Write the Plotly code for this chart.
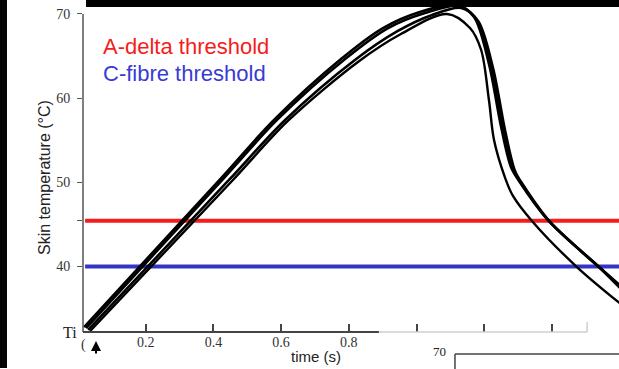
import plotly.graph_objects as go

# ---- data (time in s, skin temperature in °C) ----
trace_a_t = [0.018, 0.423, 0.579, 0.777, 0.901, 1.010, 1.120, 1.170, 1.214, 1.250, 1.279, 1.303, 1.386, 1.533, 1.607]
trace_a_T = [32.81, 50.51, 57.41, 64.65, 68.33, 70.24, 71.07, 69.64, 64.06, 56.57, 51.82, 50.16, 45.64, 40.18, 37.56]

trace_b_t = [0.024, 0.431, 0.588, 0.789, 0.916, 1.025, 1.126, 1.176, 1.220, 1.256, 1.285, 1.309, 1.391, 1.539, 1.607]
trace_b_T = [32.69, 50.51, 57.41, 64.65, 68.33, 70.12, 70.95, 69.40, 63.82, 56.34, 51.58, 49.92, 45.41, 39.94, 37.45]

trace_c_t = [0.030, 0.446, 0.612, 0.818, 0.945, 1.046, 1.132, 1.182, 1.226, 1.262, 1.291, 1.315, 1.397, 1.545, 1.607]
trace_c_T = [32.46, 50.28, 57.41, 64.53, 67.98, 69.88, 70.71, 69.17, 63.58, 56.10, 51.35, 49.68, 45.17, 39.70, 37.21]

trace_d_t = [0.036, 0.455, 0.620, 0.827, 0.954, 1.090, 1.158, 1.191, 1.214, 1.229, 1.262, 1.285, 1.341, 1.474, 1.607]
trace_d_T = [32.34, 50.16, 57.29, 64.30, 67.62, 70.00, 68.33, 65.72, 59.78, 55.03, 50.51, 48.38, 45.41, 39.94, 35.43]

a_delta_threshold = 45.45
c_fibre_threshold = 40.0
threshold_span = [0.021, 1.61]

x_tick_vals = [0.2, 0.4, 0.6, 0.8, 1.0, 1.2, 1.4]
x_tick_text = ["0.2", "0.4", "0.6", "0.8", "", "", ""]
y_tick_vals = [40, 45.45, 50, 60, 70]
y_tick_text = ["40", "", "50", "60", "70"]

X_RANGE = [0.01477, 1.5982]
Y_RANGE = [32.22, 71.66]

RED = "#f41c1c"
BLUE = "#3434c6"
SERIF = "Liberation Serif, Times New Roman, serif"
SANS = "Liberation Sans, Arial, sans-serif"

fig = go.Figure()

# threshold lines
fig.add_trace(go.Scatter(x=threshold_span, y=[a_delta_threshold] * 2, mode="lines",
                         line=dict(color=RED, width=4), hoverinfo="skip", showlegend=False))
fig.add_trace(go.Scatter(x=threshold_span, y=[c_fibre_threshold] * 2, mode="lines",
                         line=dict(color=BLUE, width=4), hoverinfo="skip", showlegend=False))

# temperature traces
for tt, TT, w in [(trace_a_t, trace_a_T, 2.6), (trace_b_t, trace_b_T, 2.6),
                  (trace_c_t, trace_c_T, 2.6), (trace_d_t, trace_d_T, 2.4)]:
    fig.add_trace(go.Scatter(x=tt, y=TT, mode="lines",
                             line=dict(color="black", width=w, shape="spline", smoothing=0.9),
                             hoverinfo="skip", showlegend=False))

shapes = [
    # white page region
    dict(type="rect", xref="paper", yref="paper", x0=-0.2, x1=1.05, y0=-0.2, y1=1.05,
         fillcolor="white", line=dict(width=0), layer="below"),
    # black frame pieces (left strip, top band)
    dict(type="rect", xref="paper", yref="paper", x0=-0.3, x1=-0.1418, y0=-0.1084, y1=1.1,
         fillcolor="#050505", line=dict(width=0), layer="above"),
    dict(type="rect", xref="paper", yref="paper", x0=0.0056, x1=1.1, y0=0.9789, y1=1.1,
         fillcolor="black", line=dict(width=0), layer="above"),
    # y axis line
    dict(type="line", xref="paper", yref="y", x0=0, x1=0, y0=Y_RANGE[0], y1=70,
         line=dict(color="#555555", width=1.5)),
    # x axis line: dark part then faded part
    dict(type="line", xref="x", yref="paper", x0=X_RANGE[0], x1=0.889, y0=0, y1=0,
         line=dict(color="#444444", width=2)),
    dict(type="line", xref="x", yref="paper", x0=0.889, x1=1.504, y0=0, y1=0,
         line=dict(color="#cfcfcf", width=1.5)),
    dict(type="line", xref="x", yref="paper", x0=1.504, x1=1.504, y0=0, y1=0.03,
         line=dict(color="#cfcfcf", width=1.5)),
    # partial neighbouring panel at bottom right
    dict(type="line", xref="paper", yref="paper", x0=0.694, x1=1.0, y0=-0.0663, y1=-0.0663,
         line=dict(color="#444444", width=1.5)),
    dict(type="line", xref="paper", yref="paper", x0=0.694, x1=0.694, y0=-0.0663, y1=-0.1114,
         line=dict(color="#444444", width=1.5)),
]

annotations = [
    dict(text="A-delta threshold", xref="paper", yref="paper", x=0.0336, y=0.8614,
         xanchor="left", yanchor="middle", showarrow=False, font=dict(family=SANS, size=22, color=RED)),
    dict(text="C-fibre threshold", xref="paper", yref="paper", x=0.0336, y=0.7801,
         xanchor="left", yanchor="middle", showarrow=False, font=dict(family=SANS, size=22, color="#3a3ad4")),
    dict(text="Skin temperature (°C)", xref="paper", yref="paper", x=-0.0709, y=0.4669,
         textangle=-90, xanchor="center", yanchor="middle", showarrow=False,
         font=dict(family=SANS, size=16, color="#222222")),
    dict(text="time (s)", xref="paper", yref="paper", x=0.4347, y=-0.0723,
         xanchor="center", yanchor="middle", showarrow=False, font=dict(family=SANS, size=15, color="#222222")),
    dict(text="Ti", xref="paper", yref="paper", x=-0.0243, y=0.0,
         xanchor="center", yanchor="middle", showarrow=False, font=dict(family=SERIF, size=16, color="#222222")),
    dict(text="(", xref="paper", yref="paper", x=0.0, y=-0.039,
         xanchor="center", yanchor="middle", showarrow=False, font=dict(family=SERIF, size=14, color="#333333")),
    dict(text="70", xref="paper", yref="paper", x=0.666, y=-0.0602,
         xanchor="center", yanchor="middle", showarrow=False, font=dict(family=SERIF, size=13, color="#222222")),
    dict(text="", xref="x", yref="paper", x=0.0532, y=-0.027, showarrow=True,
         ax=0, ay=14, arrowhead=2, arrowsize=1.0, arrowwidth=2, arrowcolor="black"),
]

fig.update_layout(
    width=619, height=369,
    margin=dict(l=83, r=0, t=0, b=37),
    paper_bgcolor="white", plot_bgcolor="white",
    shapes=shapes, annotations=annotations,
    showlegend=False,
    xaxis=dict(range=X_RANGE, showgrid=False, zeroline=False, showline=False,
               tickmode="array", tickvals=x_tick_vals, ticktext=x_tick_text,
               ticks="inside", ticklen=8, tickwidth=1.5, tickcolor="#444444",
               tickfont=dict(family=SERIF, size=14, color="#333333")),
    yaxis=dict(range=Y_RANGE, showgrid=False, zeroline=False, showline=False,
               tickmode="array", tickvals=y_tick_vals, ticktext=y_tick_text,
               ticks="outside", ticklen=5, tickwidth=1.2, tickcolor="#555555",
               ticklabelstandoff=4,
               tickfont=dict(family=SERIF, size=14, color="#333333")),
)

fig.write_html("out.html", config={"displayModeBar": False},
               post_script="document.body.style.margin='0';")
